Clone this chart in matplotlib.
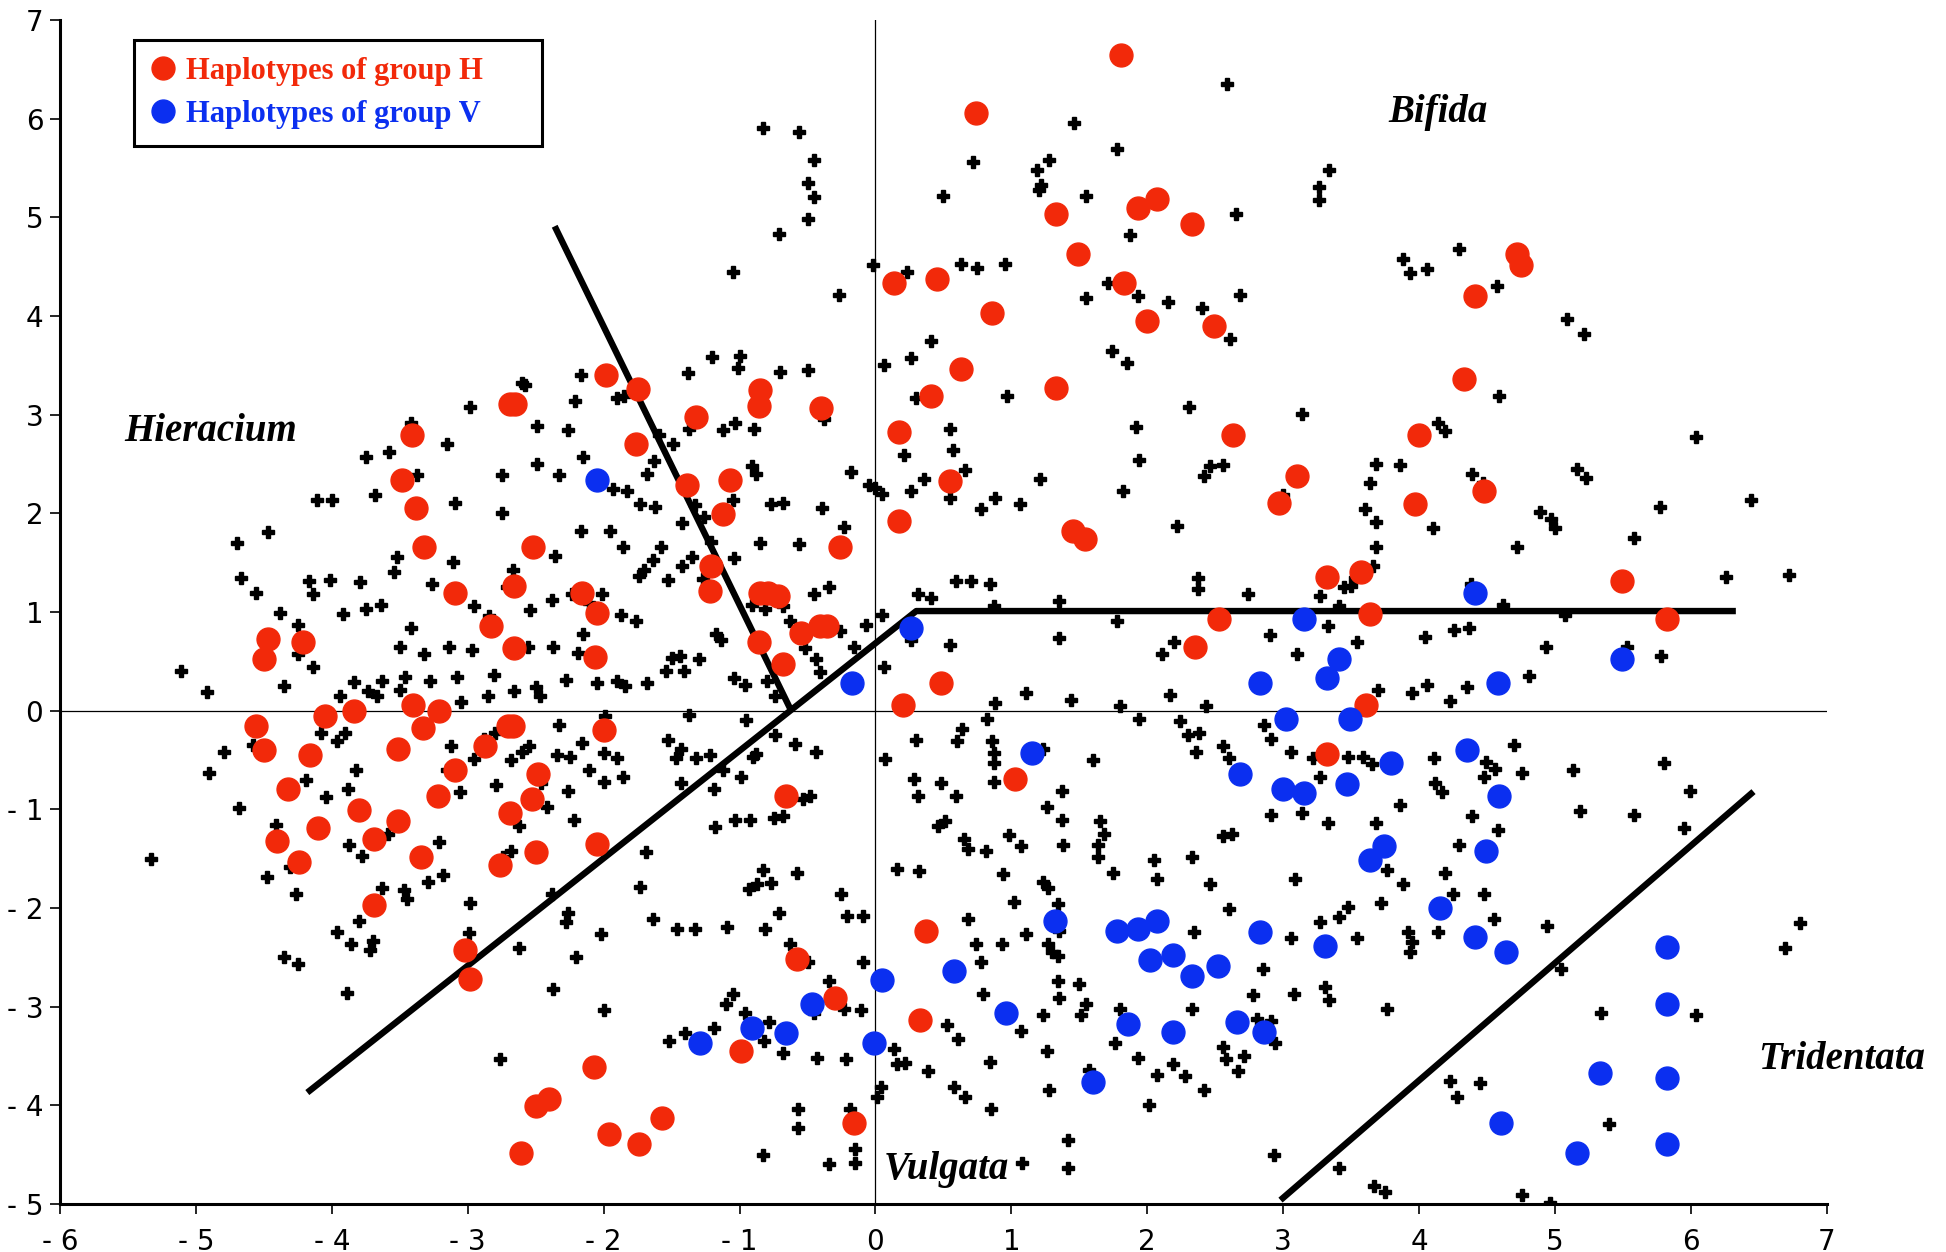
import matplotlib.pyplot as plt
from matplotlib.ticker import FuncFormatter

# haplotypes of group H (red)
red_pts = [
    (1.81, 6.65), (0.74, 6.06), (0.14, 4.33), (0.45, 4.38), (1.33, 5.03), (1.49, 4.63),
    (1.93, 5.09), (2.07, 5.19), (2.33, 4.93), (1.83, 4.33), (2.00, 3.95), (2.49, 3.90),
    (0.86, 4.03), (0.63, 3.46), (0.41, 3.19), (1.33, 3.27), (0.17, 2.82), (0.55, 2.33),
    (0.17, 1.92), (2.63, 2.79), (2.97, 2.11), (3.10, 2.38), (4.00, 2.79), (3.97, 2.09),
    (4.33, 3.36), (4.41, 4.20), (4.72, 4.63), (4.75, 4.52), (4.48, 2.23), (1.45, 1.82),
    (1.54, 1.74), (3.32, 1.36), (3.57, 1.41), (3.64, 0.98), (2.53, 0.93), (2.35, 0.65),
    (5.49, 1.31), (5.82, 0.93), (3.61, 0.06), (3.32, -0.44), (1.03, -0.69), (0.20, 0.06),
    (0.48, 0.28), (0.37, -2.23), (0.33, -3.13), (-0.58, -2.52), (-0.30, -2.91), (-0.99, -3.45),
    (-0.16, -4.18), (-2.07, -3.61), (-1.96, -4.29), (-1.74, -4.39), (-1.57, -4.13), (-2.50, -4.01),
    (-2.40, -3.94), (-2.61, -4.48), (-2.98, -2.72), (-3.02, -2.43), (-0.66, -0.86), (-0.40, 3.07),
    (-0.41, 0.86), (-0.36, 0.86), (-0.68, 0.47), (-0.55, 0.79), (-0.86, 0.70), (-0.26, 1.66),
    (-0.85, 3.25), (-0.86, 3.09), (-1.07, 2.34), (-1.12, 1.99), (-1.32, 2.98), (-1.39, 2.29),
    (-1.21, 1.47), (-1.22, 1.21), (-0.85, 1.19), (-0.79, 1.19), (-0.72, 1.16), (-1.75, 3.26),
    (-1.98, 3.40), (-1.76, 2.70), (-2.05, 0.99), (-2.06, 0.54), (-2.16, 1.19), (-2.00, -0.20),
    (-2.05, -1.35), (-2.52, 1.66), (-2.66, 1.26), (-2.66, 0.64), (-2.69, 3.11), (-2.65, 3.11),
    (-2.83, 0.86), (-3.09, 1.19), (-3.32, 1.66), (-3.38, 2.05), (-3.48, 2.34), (-3.41, 2.79),
    (-4.21, 0.70), (-4.47, 0.73), (-4.50, 0.52), (-4.56, -0.15), (-4.50, -0.40), (-4.32, -0.79),
    (-4.16, -0.45), (-4.05, -0.05), (-4.10, -1.19), (-4.24, -1.53), (-4.40, -1.32), (-3.84, 0.00),
    (-3.80, -1.01), (-3.69, -1.30), (-3.69, -1.97), (-3.51, -1.12), (-3.51, -0.39), (-3.40, 0.06),
    (-3.33, -0.18), (-3.34, -1.48), (-3.22, -0.86), (-3.09, -0.60), (-3.21, 0.00), (-2.87, -0.36),
    (-2.70, -0.15), (-2.67, -0.15), (-2.76, -1.56), (-2.69, -1.04), (-2.53, -0.89), (-2.48, -0.64),
    (-2.50, -1.43),
]

# haplotypes of group V (blue)
blue_pts = [
    (-2.05, 2.34), (-0.17, 0.28), (0.26, 0.84), (3.15, 0.93), (4.41, 1.19), (5.49, 0.52),
    (3.41, 0.52), (3.32, 0.33), (2.83, 0.28), (4.58, 0.28), (3.02, -0.08), (3.49, -0.08),
    (1.15, -0.43), (2.68, -0.64), (3.00, -0.79), (3.15, -0.83), (3.47, -0.74), (3.79, -0.53),
    (4.35, -0.40), (4.59, -0.86), (3.74, -1.37), (3.64, -1.51), (4.49, -1.42), (4.15, -2.00),
    (4.41, -2.29), (4.64, -2.45), (3.31, -2.38), (2.83, -2.24), (1.32, -2.13), (1.78, -2.23),
    (1.93, -2.21), (2.07, -2.13), (2.02, -2.53), (2.19, -2.48), (2.33, -2.69), (2.52, -2.59),
    (0.58, -2.64), (0.05, -2.73), (-0.47, -2.97), (-0.66, -3.27), (-0.91, -3.22), (-1.29, -3.37),
    (-0.01, -3.37), (0.96, -3.06), (1.86, -3.18), (2.19, -3.26), (2.66, -3.16), (2.86, -3.26),
    (1.60, -3.76), (5.82, -2.39), (5.82, -2.97), (5.82, -3.72), (5.82, -4.39), (5.33, -3.67),
    (5.16, -4.48), (4.60, -4.18),
]

# all other samples (small black marks)
black_pts = [
    # upper half
    (2.59, 6.35), (-0.83, 5.91), (-0.56, 5.87), (-0.45, 5.58), (-0.50, 5.35), (-0.45, 5.21),
    (-0.50, 4.98), (-0.71, 4.83), (1.46, 5.96), (1.78, 5.69), (1.19, 5.48), (1.28, 5.58),
    (1.22, 5.33), (1.20, 5.28), (0.72, 5.56), (1.55, 5.22), (0.50, 5.22), (2.65, 5.03),
    (3.34, 5.48), (3.26, 5.31), (3.26, 5.18), (1.87, 4.82), (0.63, 4.53), (0.75, 4.49),
    (0.95, 4.53), (0.23, 4.45), (-0.02, 4.52), (-1.05, 4.45), (-0.27, 4.21), (1.55, 4.18),
    (1.71, 4.33), (1.93, 4.20), (2.15, 4.14), (2.68, 4.21), (2.40, 4.08), (2.61, 3.77),
    (3.88, 4.58), (3.93, 4.44), (4.29, 4.68), (4.57, 4.30), (5.09, 3.97), (5.21, 3.82),
    (4.06, 4.48), (0.41, 3.75), (0.26, 3.57), (0.06, 3.50), (0.30, 3.17), (0.97, 3.19),
    (1.74, 3.65), (1.85, 3.52), (1.92, 2.88), (2.31, 3.08), (3.14, 3.01), (4.59, 3.19),
    (4.14, 2.92), (4.19, 2.83), (-2.60, 3.32), (-1.20, 3.58), (-1.00, 3.60), (-1.01, 3.47),
    (-1.38, 3.42), (-2.17, 3.40), (-1.85, 3.19), (-1.90, 3.17), (-2.21, 3.14), (-2.58, 3.30),
    (-2.98, 3.08), (-0.50, 3.45), (-0.38, 2.96), (-0.70, 3.43), (-0.89, 2.86), (-1.03, 2.92),
    (-1.12, 2.84), (-1.37, 2.86), (-1.59, 2.79), (-1.49, 2.70), (-1.68, 2.40), (-2.26, 2.84),
    (-2.49, 2.89), (-3.42, 2.92), (-3.15, 2.70), (-3.75, 2.57), (-3.58, 2.62), (-4.11, 2.14),
    (-4.00, 2.14), (-3.68, 2.19), (-3.37, 2.39), (-3.09, 2.11), (-2.75, 2.00), (-2.75, 2.39),
    (-2.49, 2.50), (-2.33, 2.39), (-2.15, 2.57), (-1.63, 2.53), (-1.93, 2.25), (-1.83, 2.23),
    (-1.73, 2.09), (-1.62, 2.06), (-2.17, 1.82), (-1.95, 1.82), (-1.86, 1.66), (-1.33, 2.08),
    (-1.26, 1.96), (-0.91, 2.48), (-0.88, 2.40), (-0.77, 2.10), (-0.68, 2.11), (-1.05, 2.14),
    (-1.42, 1.90), (-1.21, 1.71), (-0.85, 1.70), (-0.56, 1.69), (-0.39, 2.05), (-0.18, 2.42),
    (-0.05, 2.29), (0.00, 2.26), (0.05, 2.20), (-0.23, 1.86), (0.26, 2.23), (0.36, 2.35),
    (0.21, 2.59), (0.55, 2.86), (0.57, 2.64), (0.66, 2.44), (0.55, 2.16), (0.78, 2.04),
    (0.88, 2.16), (1.06, 2.10), (1.21, 2.35), (1.94, 2.54), (1.82, 2.23), (2.42, 2.38),
    (2.22, 1.87), (2.46, 2.48), (2.56, 2.49), (3.00, 2.19), (3.64, 2.31), (3.68, 2.50),
    (3.60, 2.04), (3.86, 2.49), (4.10, 1.85), (4.39, 2.40), (4.47, 2.31), (4.89, 2.01),
    (4.97, 1.94), (5.00, 1.85), (5.16, 2.45), (5.23, 2.36), (4.72, 1.66), (5.58, 1.75),
    (6.04, 2.77), (6.44, 2.14), (5.77, 2.06), (6.72, 1.38), (6.26, 1.36),
    (-4.70, 1.70), (-4.47, 1.81), (-4.67, 1.35), (-4.56, 1.19), (-4.38, 0.99), (-4.25, 0.87),
    (-4.17, 1.31), (-4.14, 1.18), (-4.01, 1.32), (-3.92, 0.98), (-3.79, 1.30), (-3.75, 1.03),
    (-3.64, 1.07), (-3.54, 1.41), (-3.52, 1.56), (-3.26, 1.28), (-3.11, 1.51), (-2.95, 1.06),
    (-2.84, 0.96), (-2.71, 1.25), (-2.67, 1.43), (-2.54, 1.02), (-2.38, 1.12), (-2.36, 1.57),
    (-2.23, 1.18), (-2.11, 1.09), (-2.01, 1.18), (-1.87, 0.97), (-1.76, 0.91), (-1.74, 1.37),
    (-1.70, 1.43), (-1.64, 1.53), (-1.58, 1.66), (-1.53, 1.32), (-1.42, 1.47), (-1.35, 1.56),
    (-1.27, 1.33), (-1.04, 1.55), (-0.91, 1.07), (-0.81, 1.03), (-0.68, 1.06), (-0.63, 0.91),
    (-0.45, 1.18), (-0.34, 1.25), (-0.52, 0.64), (-0.26, 0.81), (-0.16, 0.65), (-0.07, 0.87),
    (0.05, 0.97),
    (-5.11, 0.40), (-4.92, 0.19), (-4.35, 0.25), (-4.25, 0.57), (-4.14, 0.44), (-3.94, 0.15),
    (-3.84, 0.29), (-3.73, 0.20), (-3.67, 0.15), (-3.63, 0.30), (-3.50, 0.21), (-3.46, 0.34),
    (-3.50, 0.65), (-3.42, 0.84), (-3.32, 0.57), (-3.28, 0.30), (-3.14, 0.65), (-3.08, 0.34),
    (-3.05, 0.09), (-2.97, 0.62), (-2.85, 0.15), (-2.81, 0.36), (-2.66, 0.20), (-2.56, 0.65),
    (-2.50, 0.24), (-2.47, 0.15), (-2.37, 0.65), (-2.28, 0.31), (-2.19, 0.58), (-2.15, 0.78),
    (-2.05, 0.28), (-1.90, 0.30), (-1.84, 0.25), (-1.68, 0.28), (-1.54, 0.40), (-1.50, 0.53),
    (-1.44, 0.55), (-1.41, 0.40), (-1.30, 0.52), (-1.17, 0.78), (-1.14, 0.72), (-1.04, 0.33),
    (-0.96, 0.26), (-0.80, 0.30), (-0.74, 0.15), (-0.44, 0.52), (-0.41, 0.39), (0.06, 0.44),
    (0.31, 1.18), (0.41, 1.14), (0.59, 1.31), (0.70, 1.31), (0.84, 1.28), (0.87, 1.06),
    (1.35, 1.11), (1.78, 0.91), (1.35, 0.74), (0.55, 0.67), (0.26, 0.72), (2.11, 0.57),
    (2.20, 0.70), (2.37, 1.23), (2.37, 1.35), (2.74, 1.18), (3.27, 1.16), (3.33, 0.86),
    (3.41, 1.06), (3.45, 1.25), (3.50, 1.26), (3.53, 1.35), (3.66, 1.47), (3.68, 1.66),
    (3.68, 1.91), (2.90, 0.77), (3.10, 0.57), (3.54, 0.70), (3.70, 0.21), (3.95, 0.18),
    (4.04, 0.75), (4.26, 0.82), (4.37, 0.84), (4.38, 1.28), (4.23, 0.10), (4.35, 0.24),
    (4.06, 0.26), (4.93, 0.65), (4.81, 0.35), (5.07, 0.97), (4.62, 1.07), (5.53, 0.65),
    (5.78, 0.55),
    # lower half, left
    (-5.33, -1.50), (-4.90, -0.63), (-4.79, -0.42), (-4.68, -0.99), (-4.58, -0.35), (-4.48, -1.69),
    (-4.41, -1.16), (-4.35, -2.50), (-4.25, -2.57), (-4.31, -1.58), (-4.26, -1.86), (-4.19, -0.70),
    (-4.08, -0.23), (-4.04, -0.87), (-3.96, -0.31), (-3.90, -0.23), (-3.88, -0.79), (-3.82, -0.60),
    (-3.87, -1.36), (-3.78, -1.47), (-3.96, -2.24), (-3.86, -2.36), (-3.80, -2.13), (-3.72, -2.43),
    (-3.70, -2.33), (-3.89, -2.86), (-3.63, -1.80), (-3.59, -1.25), (-3.47, -1.82), (-3.45, -1.91),
    (-3.29, -1.74), (-3.21, -1.33), (-3.18, -1.67), (-3.15, -0.60), (-3.12, -0.36), (-3.06, -0.82),
    (-2.98, -1.95), (-2.99, -2.25), (-2.95, -0.49), (-2.88, -0.29), (-2.80, -0.23), (-2.79, -0.75),
    (-2.74, -1.48), (-2.68, -0.50), (-2.68, -1.42), (-2.62, -1.17), (-2.76, -3.53), (-2.60, -0.42),
    (-2.55, -0.36), (-2.46, -0.73), (-2.42, -0.98), (-2.34, -0.45), (-2.33, -0.14), (-2.26, -0.81),
    (-2.25, -0.47), (-2.22, -1.11), (-2.16, -0.33), (-2.11, -0.60), (-2.00, -0.72), (-1.99, -0.05),
    (-1.90, -0.48), (-1.86, -0.67), (-2.00, -0.43), (-2.38, -1.86), (-2.26, -2.05), (-2.28, -2.14),
    (-2.62, -2.40), (-2.37, -2.82), (-2.20, -2.50), (-2.02, -2.26), (-2.00, -3.03), (-1.69, -1.43),
    (-1.73, -1.79), (-1.64, -2.11), (-1.53, -0.30), (-1.47, -0.48), (-1.43, -0.73), (-1.43, -0.39),
    (-1.37, -0.04), (-1.32, -0.48), (-1.22, -0.45), (-1.19, -0.79), (-1.18, -1.18), (-1.12, -0.60),
    (-1.03, -1.11), (-0.99, -0.67), (-0.95, -0.09), (-0.92, -1.11), (-0.90, -0.47), (-0.88, -0.44),
    (-0.75, -1.09), (-0.68, -1.07), (-0.53, -0.89), (-0.48, -0.86), (-0.44, -0.42), (-0.74, -0.25),
    (-0.59, -0.34), (-1.46, -2.21), (-1.33, -2.21), (-1.09, -2.19), (-0.93, -1.81), (-0.87, -1.76),
    (-0.83, -1.61), (-0.77, -1.75), (-0.58, -1.64), (-0.81, -2.21), (-0.71, -2.05), (-0.25, -1.86),
    (-0.21, -2.08), (-0.09, -2.08), (-0.63, -2.36), (-0.50, -2.55), (-0.34, -2.74), (-0.09, -2.55),
    (-1.52, -3.35), (-1.40, -3.27), (-1.19, -3.22), (-1.05, -2.87), (-1.10, -2.97), (-0.96, -3.06),
    (-0.82, -3.35), (-0.78, -3.16), (-0.68, -3.47), (-0.57, -4.04), (-0.57, -4.23), (-0.83, -4.50),
    (-0.34, -4.59), (-0.15, -4.58), (-0.15, -4.44), (-0.19, -4.04), (0.04, -3.81), (0.01, -3.91),
    (-0.22, -3.53), (-0.43, -3.52), (-0.45, -3.06), (-0.23, -3.02), (-0.11, -3.03),
    # lower half, right
    (0.14, -3.43), (0.16, -3.58), (0.22, -3.57), (0.39, -3.65), (0.58, -3.81), (0.66, -3.91),
    (0.85, -4.04), (1.08, -4.58), (1.42, -4.35), (1.42, -4.63), (1.28, -3.84), (1.57, -3.64),
    (0.07, -0.49), (0.28, -0.69), (0.31, -0.86), (0.48, -0.73), (0.59, -0.86), (0.30, -0.30),
    (0.60, -0.31), (0.64, -0.19), (0.82, -0.08), (0.86, -0.31), (0.87, -0.43), (0.87, -0.53),
    (0.87, -0.72), (0.88, 0.08), (1.11, 0.18), (1.23, -0.39), (1.37, -0.81), (1.26, -0.98),
    (1.37, -1.11), (1.60, -0.50), (1.65, -1.12), (1.68, -1.25), (1.44, 0.11), (1.80, 0.05),
    (1.94, -0.08), (2.17, 0.16), (2.24, -0.10), (2.30, -0.25), (2.36, -0.42), (2.38, -0.23),
    (2.56, -0.36), (2.60, -0.48), (2.43, 0.05), (2.86, -0.14), (2.91, -0.29), (3.06, -0.42),
    (3.22, -0.48), (3.27, -0.67), (3.48, -0.47), (3.59, -0.47), (3.65, -0.54), (2.91, -1.06),
    (2.56, -1.27), (2.62, -1.25), (3.09, -1.71), (3.33, -1.14), (3.14, -1.04), (3.68, -1.14),
    (3.86, -0.96), (4.12, -0.73), (4.17, -0.82), (4.39, -1.07), (4.48, -0.67), (4.49, -0.52),
    (4.56, -0.59), (4.76, -0.63), (4.70, -0.35), (4.11, -0.48), (4.29, -1.36), (4.58, -1.21),
    (5.13, -0.60), (5.18, -1.02), (5.58, -1.06), (5.80, -0.53), (5.99, -0.81), (5.95, -1.19),
    (6.04, -3.08), (6.69, -2.40), (6.80, -2.15),
    (0.16, -1.60), (0.32, -1.62), (0.46, -1.17), (0.51, -1.12), (0.65, -1.30), (0.68, -1.40),
    (0.81, -1.42), (0.98, -1.26), (1.07, -1.37), (0.94, -1.65), (1.02, -1.94), (1.23, -1.74),
    (1.27, -1.80), (1.34, -1.96), (1.35, -2.23), (1.27, -2.36), (1.30, -2.45), (1.34, -2.49),
    (1.38, -1.36), (1.64, -1.36), (1.64, -1.48), (1.75, -1.64), (2.05, -1.51), (2.07, -1.71),
    (2.33, -1.48), (2.46, -1.76), (2.60, -2.01), (3.27, -2.14), (3.41, -2.09), (3.48, -1.99),
    (3.54, -2.30), (3.72, -1.95), (3.76, -1.61), (3.88, -1.76), (3.92, -2.24), (3.95, -2.34),
    (3.93, -2.45), (3.76, -3.02), (4.19, -1.64), (4.14, -2.24), (4.25, -1.86), (4.48, -1.86),
    (4.55, -2.11), (4.94, -2.18), (0.93, -2.36), (0.68, -2.11), (0.74, -2.36), (0.78, -2.55),
    (1.11, -2.26), (1.34, -2.74), (1.35, -2.91), (1.50, -2.77), (1.55, -2.97), (1.51, -3.08),
    (1.07, -3.25), (1.23, -3.08), (0.79, -2.87), (0.53, -3.19), (0.61, -3.33), (0.84, -3.56),
    (1.26, -3.45), (1.80, -3.02), (1.76, -3.37), (1.93, -3.52), (2.01, -4.00), (2.07, -3.69),
    (2.19, -3.58), (2.28, -3.70), (2.34, -2.24), (2.33, -3.02), (2.42, -3.84), (2.56, -3.41),
    (2.58, -3.53), (2.67, -3.65), (2.71, -3.50), (2.78, -2.88), (2.81, -3.12), (2.91, -3.14),
    (2.94, -3.37), (2.85, -2.62), (3.08, -2.87), (3.31, -2.80), (3.34, -2.93), (3.06, -2.30),
    (2.93, -4.50), (3.41, -4.63), (3.67, -4.82), (3.75, -4.88), (4.23, -3.75), (4.28, -3.91),
    (4.45, -3.77), (4.76, -4.91), (4.96, -4.99), (5.04, -2.62), (5.34, -3.06), (5.40, -4.19),
]

# dividing lines
line_a = [(-2.36, 4.91), (-0.62, 0.00)]
line_b = [(-4.18, -3.87), (0.30, 1.01), (6.33, 1.01)]
line_c = [(2.98, -4.96), (6.46, -0.82)]

region_labels = ["Bifida", "Hieracium", "Tridentata", "Vulgata"]
region_pos = [(4.14, 6.06), (-4.89, 2.83), (7.11, -3.53), (0.52, -4.65)]

red = "#f2290a"
blue = "#0b2ff0"

fig = plt.figure(figsize=(19.46, 12.52), dpi=100)
ax = fig.add_axes([0.0308, 0.0383, 0.908, 0.9457])

bx, by = zip(*black_pts)
ax.plot(bx, by, linestyle="none", marker="P", markersize=8.5, color="black", zorder=2)

for ln in (line_a, line_b, line_c):
    lx, ly = zip(*ln)
    ax.plot(lx, ly, color="black", linewidth=4.6, solid_capstyle="butt", zorder=3)

rx, ry = zip(*red_pts)
ax.plot(rx, ry, linestyle="none", marker="o", markersize=16.5, color=red,
        label="Haplotypes of group H", zorder=4)
ux, uy = zip(*blue_pts)
ax.plot(ux, uy, linestyle="none", marker="o", markersize=16.5, color=blue,
        label="Haplotypes of group V", zorder=4)

ax.axhline(0, color="black", linewidth=0.9, zorder=1)
ax.axvline(0, color="black", linewidth=0.9, zorder=1)

for lab, (tx, ty) in zip(region_labels, region_pos):
    ax.text(tx, ty, lab, fontsize=28, fontweight="bold", fontstyle="italic",
            family="Liberation Serif", ha="center", va="center", clip_on=False)

ax.set_xlim(-6, 7)
ax.set_ylim(-5, 7)
ax.set_xticks(range(-6, 8))
ax.set_yticks(range(-5, 8))
fmt = FuncFormatter(lambda v, p: f"- {int(-v)}" if v < 0 else f"{int(v)}")
ax.xaxis.set_major_formatter(fmt)
ax.yaxis.set_major_formatter(fmt)
ax.tick_params(direction="out", length=7, width=1.2, labelsize=20)
ax.tick_params(axis="x", pad=10)
ax.tick_params(axis="y", pad=5)

for s in ("top", "right"):
    ax.spines[s].set_visible(False)
for s in ("left", "bottom"):
    ax.spines[s].set_linewidth(2.2)

leg = ax.legend(loc="upper left", bbox_to_anchor=(0.042, 0.973, 0.231, 0.01),
                mode="expand", borderaxespad=0,
                prop={"family": "Liberation Serif", "weight": "bold", "size": 22},
                fancybox=False, framealpha=1, edgecolor="black", handletextpad=0.35,
                handlelength=0.8, borderpad=0.55, labelspacing=0.45, markerscale=1.0)
leg.get_frame().set_linewidth(2.2)
leg.get_texts()[0].set_color(red)
leg.get_texts()[1].set_color(blue)

fig.savefig("out.png", dpi=100)
